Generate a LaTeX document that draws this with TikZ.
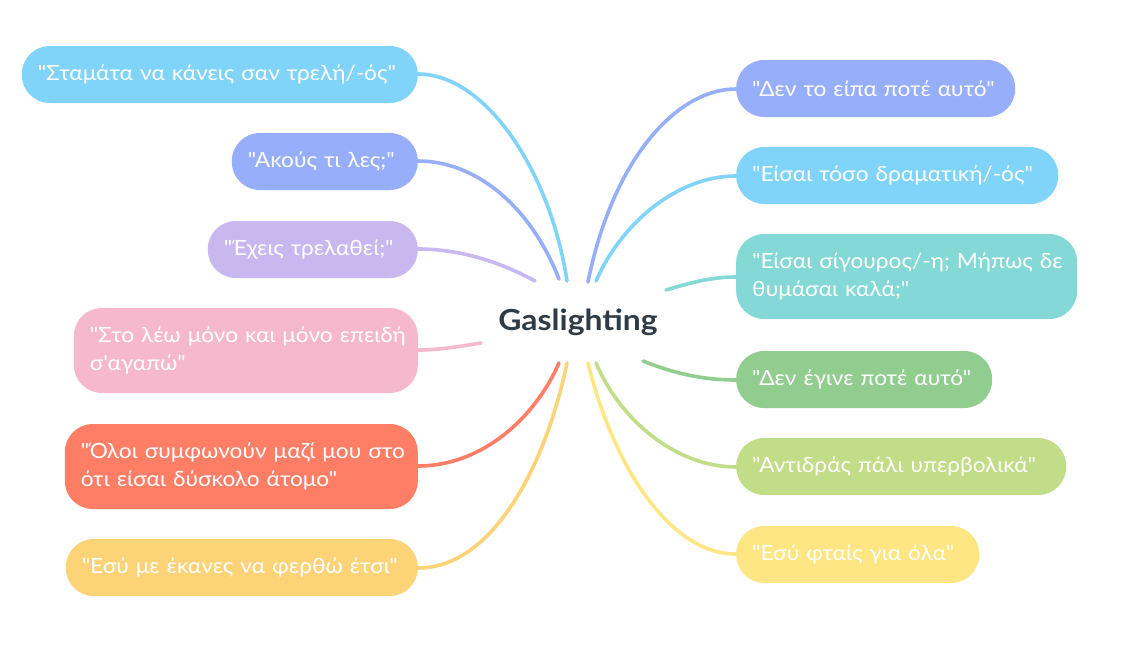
\documentclass[tikz,border=0pt]{standalone}
\usepackage{fontspec}
\newfontfamily\boxfont[FakeStretch=1.08]{Lato}
\newfontfamily\titlefont[FakeStretch=1.1]{Lato}
\usetikzlibrary{positioning}
\definecolor{cLblue}{HTML}{80D4FA}
\definecolor{cLav}{HTML}{97AEFA}
\definecolor{cPurp}{HTML}{C9B7EF}
\definecolor{cPink}{HTML}{F5B8CD}
\definecolor{cCoral}{HTML}{FF7E65}
\definecolor{cOrng}{HTML}{FDD378}
\definecolor{cTeal}{HTML}{84D8D6}
\definecolor{cGreen}{HTML}{90CD8E}
\definecolor{cLime}{HTML}{C2DD87}
\definecolor{cYell}{HTML}{FDE683}
\definecolor{cTitle}{HTML}{2F3B45}
\hbadness=10000 \hfuzz=100pt
\tikzset{
  leaf/.style={rounded corners=28pt, text=white, inner xsep=16pt, inner ysep=0pt,
    align=left, font=\boxfont\fontsize{21}{28}\selectfont},
  leafone/.style={leaf, minimum height=57pt},
  leaftwo/.style={leaf, minimum height=85pt},
  branch/.style={line width=3.6pt, line cap=round},
}
\begin{document}
\begin{tikzpicture}[x=1pt,y=-1pt]
\useasboundingbox (0,0) rectangle (1139,659);
\fill[white] (0,0) rectangle (1139,659);

% centre
\node[font=\titlefont\bfseries\fontsize{29}{34}\selectfont, text=cTitle] (c) at (578,322) {Gaslighting};

% free ends of the branches
\coordinate (eL1) at (567,281);
\coordinate (eL2) at (559,279);
\coordinate (eL3) at (535,281);
\coordinate (eL4) at (481,343);
\coordinate (eL5) at (559,363);
\coordinate (eL6) at (567,363);
\coordinate (eR1) at (588,282);
\coordinate (eR2) at (596,281);
\coordinate (eR3) at (666,290);
\coordinate (eR4) at (643,361);
\coordinate (eR5) at (596,363);
\coordinate (eR6) at (588,363);

% branches (behind boxes)
\draw[branch, cLblue] (418,74) .. controls (485,74) and (550,170) .. (eL1);
\draw[branch, cLav]   (418,161) .. controls (475,161) and (530,205) .. (eL2);
\draw[branch, cPurp]  (418,249) .. controls (462,249) and (502,263) .. (eL3);
\draw[branch, cPink]  (418,350) .. controls (440,350) and (462,346) .. (eL4);
\draw[branch, cCoral] (418,466) .. controls (482,466) and (535,418) .. (eL5);
\draw[branch, cOrng]  (418,568) .. controls (492,568) and (545,468) .. (eL6);
\draw[branch, cLav]   (736,89) .. controls (675,89) and (612,162) .. (eR1);
\draw[branch, cLblue] (736,176) .. controls (678,176) and (622,222) .. (eR2);
\draw[branch, cTeal]  (736,277) .. controls (710,277) and (690,283) .. (eR3);
\draw[branch, cGreen] (736,380) .. controls (698,380) and (668,371) .. (eR4);
\draw[branch, cLime]  (736,467) .. controls (676,467) and (620,420) .. (eR5);
\draw[branch, cYell]  (736,554) .. controls (668,554) and (612,462) .. (eR6);

% left boxes
\node[leafone, fill=cLblue, minimum width=396pt, text width=364pt, anchor=east] (L1) at (418,74.5) {\mbox{"Σταμάτα να κάνεις σαν τρελή/-ός"}};
\node[leafone, fill=cLav, minimum width=186pt, text width=154pt, anchor=east] (L2) at (418,161.5) {\mbox{"Ακούς τι λες;"}};
\node[leafone, fill=cPurp, minimum width=210pt, text width=178pt, anchor=east] (L3) at (418,249.5) {\mbox{"Έχεις τρελαθεί;"}};
\node[leaftwo, fill=cPink, minimum width=344pt, text width=312pt, anchor=east] (L4) at (418,350.5) {\mbox{"Στο λέω μόνο και μόνο επειδή}\\\mbox{σ'αγαπώ"}};
\node[leaftwo, fill=cCoral, minimum width=353pt, text width=321pt, anchor=east] (L5) at (418,466.5) {\mbox{"Όλοι συμφωνούν μαζί μου στο}\\\mbox{ότι είσαι δύσκολο άτομο"}};
\node[leafone, fill=cOrng, minimum width=352pt, text width=320pt, anchor=east] (L6) at (418,567.5) {\mbox{"Εσύ με έκανες να φερθώ έτσι"}};

% right boxes
\node[leafone, fill=cLav, minimum width=279pt, text width=247pt, anchor=west] (R1) at (736,88.5) {\mbox{"Δεν το είπα ποτέ αυτό"}};
\node[leafone, fill=cLblue, minimum width=322pt, text width=290pt, anchor=west] (R2) at (736,175.5) {\mbox{"Είσαι τόσο δραματική/-ός"}};
\node[leaftwo, fill=cTeal, minimum width=341pt, text width=309pt, anchor=west] (R3) at (736,276.5) {\mbox{"Είσαι σίγουρος/-η; Μήπως δε}\\\mbox{θυμάσαι καλά;"}};
\node[leafone, fill=cGreen, minimum width=256pt, text width=224pt, anchor=west] (R4) at (736,379.5) {\mbox{"Δεν έγινε ποτέ αυτό"}};
\node[leafone, fill=cLime, minimum width=330pt, text width=298pt, anchor=west] (R5) at (736,466.5) {\mbox{"Αντιδράς πάλι υπερβολικά"}};
\node[leafone, fill=cYell, minimum width=243pt, text width=211pt, anchor=west] (R6) at (736,554.5) {\mbox{"Εσύ φταίς για όλα"}};
\end{tikzpicture}
\end{document}
